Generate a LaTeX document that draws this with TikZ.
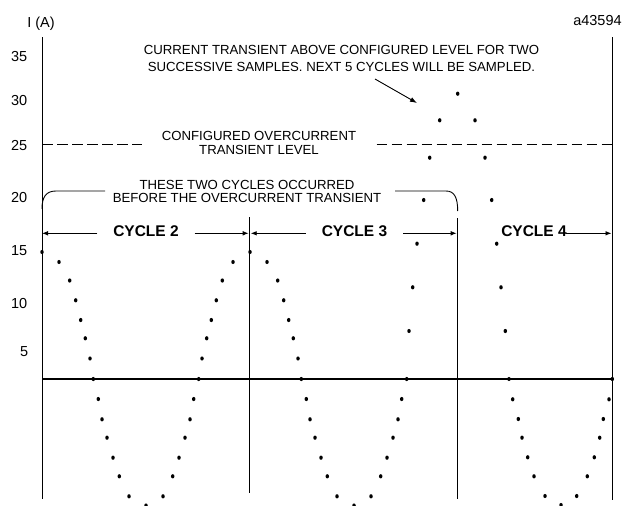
\documentclass[tikz,border=0pt]{standalone}
\usepackage{fontspec}
\setmainfont{Liberation Sans}
\usetikzlibrary{arrows.meta}
\begin{document}
\begin{tikzpicture}[x=1pt,y=-1pt,
  axisline/.style={line width=0.9pt},
  zeroline/.style={line width=1.4pt},
  lbl/.style={font=\fontsize{13.2}{16.3}\selectfont,align=center,inner sep=0pt,anchor=north},
  num/.style={font=\fontsize{14.5}{16}\selectfont,inner sep=0pt,anchor=east},
  cyc/.style={font=\fontsize{15.5}{17}\selectfont\bfseries,inner xsep=15.7pt,inner ysep=0pt},
  cycarrow/.style={line width=0.9pt,-{Latex[length=6pt,width=4.6pt]}},
  levelline/.style={line width=1pt,dash pattern=on 10.7pt off 4.3pt},
  bracketline/.style={line width=0.9pt},
]
\useasboundingbox (0,0) rectangle (624,506);

% axes and cycle boundaries
\coordinate (axTop) at (42,37);
\coordinate (axBot) at (42,499);
\coordinate (rTop) at (612,37);
\coordinate (rBot) at (612,500);
\coordinate (m1Top) at (249.7,217);
\coordinate (m1Bot) at (249.7,493);
\coordinate (m2Top) at (457.7,218);
\coordinate (m2Bot) at (457.7,499);
\coordinate (zL) at (42,379);
\coordinate (zR) at (612,379);
\draw[axisline] (axTop) -- (axBot);
\draw[axisline] (rTop) -- (rBot);
\draw[axisline] (m1Top) -- (m1Bot);
\draw[axisline] (m2Top) -- (m2Bot);
\draw[zeroline] (zL) -- (zR);

% axis labels
\node[font=\fontsize{14.5}{16}\selectfont,inner sep=0pt] (ia) at (41,24) {I (A)};
\node[font=\fontsize{14.5}{16}\selectfont,inner sep=0pt] (ref) at (597.5,21) {a43594};
\node[num] (n35) at (27.5,57) {35};
\node[num] (n30) at (27.5,100.5) {30};
\node[num] (n25) at (27.5,146) {25};
\node[num] (n20) at (27.5,198) {20};
\node[num] (n15) at (27.5,250.5) {15};
\node[num] (n10) at (27.5,303.5) {10};
\node[num] (n5) at (28.5,352) {5};

% configured level
\coordinate (d1a) at (42,144);
\coordinate (d1b) at (142,144);
\coordinate (d2a) at (376.7,144);
\coordinate (d2b) at (612,144);
\draw[levelline] (d1a) -- (d1b);
\draw[levelline] (d2a) -- (d2b);
\node[lbl,font=\fontsize{13.2}{13.3}\selectfont] (lvl) at (259,131.3) {CONFIGURED OVERCURRENT\\TRANSIENT LEVEL};

% top note and arrow
\node[lbl] (note) at (341.5,45.5) {CURRENT TRANSIENT ABOVE CONFIGURED LEVEL FOR TWO\\SUCCESSIVE SAMPLES. NEXT 5 CYCLES WILL BE SAMPLED.};
\coordinate (arS) at (375,79);
\coordinate (arE) at (417,103);
\draw[line width=0.9pt,-{Latex[length=7pt,width=5pt]}] (arS) -- (arE);

% bracket
\node[lbl,font=\fontsize{13.2}{12.6}\selectfont] (brk) at (247,180.5) {THESE TWO CYCLES OCCURRED\\BEFORE THE OVERCURRENT TRANSIENT};
\coordinate (bL0) at (42,209);
\coordinate (bL1) at (105,191);
\coordinate (bR0) at (395,191);
\coordinate (bR1) at (457.7,211);
\draw[bracketline] (bL0) .. controls (42,197) and (46,191) .. (56,191) -- (bL1);
\draw[bracketline] (bR0) -- (446,191) .. controls (454,191) and (457.7,197) .. (bR1);

% cycle labels
\coordinate (v0) at (42,233.3);
\coordinate (v1a) at (248.7,233.3);
\coordinate (v1b) at (250.7,233.3);
\coordinate (v2) at (456.7,233.3);
\coordinate (v3) at (611.5,233.3);
\node[cyc] (c2) at (146,231) {CYCLE 2};
\node[cyc] (c3) at (354.5,231) {CYCLE 3};
\node[cyc,inner xsep=0pt] (c4) at (534,231) {CYCLE 4};
\draw[cycarrow] (c2.west |- v0) -- (v0);
\draw[cycarrow] (c2.east |- v0) -- (v1a);
\draw[cycarrow] (c3.west |- v0) -- (v1b);
\draw[cycarrow] (c3.east |- v0) -- (v2);
\draw[cycarrow] ([xshift=-1pt]c4.east |- v0) -- (v3);

% samples: cycles 2 and 3, falling half
\foreach \xo in {42,250} {
  \foreach \o/\yy in {0/252,17/262,27.7/280.5,33.7/300.3,38.7/320,43.3/338.3,48/358.5,51.3/379,56.3/399,60/419.3,65/437.7,71/457.7,77.3/476.3,87/496.3,104/505.5}
    {\fill (\xo+\o,\yy) ellipse [x radius=1.75pt,y radius=2.1pt];}
}
% cycle 2 rising half
\foreach \o/\yy in {17/262,27.7/280.5,33.7/300.3,38.7/320,43.3/338.3,48/358.5,51.3/379,56.3/399,60/419.3,65/437.7,71/457.7,77.3/476.3,87/496.3}
  {\fill (250-\o,\yy) ellipse [x radius=1.75pt,y radius=2.1pt];}
% cycle 3 rising half (below zero)
\foreach \o/\yy in {51.3/379,56.3/399,60/419.3,65/437.7,71/457.7,77.3/476.3,87/496.3}
  {\fill (458-\o,\yy) ellipse [x radius=1.75pt,y radius=2.1pt];}
% transient and cycle 4
\foreach \xx/\yy in {409/331,412.7/287.3,417/243.7,423.7/200,429.7/157.7,439.7/120.3,457.7/93.7,475/120.3,485/157.7,491.7/200,496.7/243.7,501/287.3,505.3/331,509/379,
  512.7/399.3,518.3/419,522/437.7,527.7/457.3,534/476.3,545/496,561/505,576.7/496,587.3/476.3,594.3/457.3,599.7/437.7,603.3/419,609/399.3,612.3/379}
  {\fill (\xx,\yy) ellipse [x radius=1.75pt,y radius=2.1pt];}
\end{tikzpicture}
\end{document}
